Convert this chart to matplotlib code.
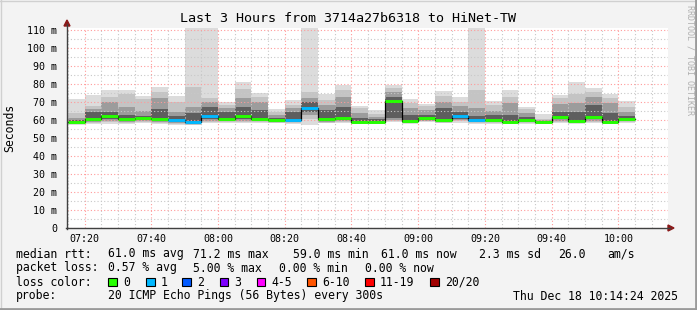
import numpy as np
import pandas as pd
import matplotlib
matplotlib.use('Agg')
import matplotlib.pyplot as plt
import matplotlib.dates as mdates
from matplotlib.patches import Rectangle, Polygon
from matplotlib.lines import Line2D

# smoke per 5 minute step (ms): outer -> inner bands
ping_max = [71.7, 74.1, 76.7, 76.7, 73.3, 78.3, 73.3, 115, 115, 69.8, 81.3, 75.2, 65.9, 71.1, 115, 74.4, 79.4,
            67.8, 65.6, 79.4, 71.7, 68.9, 76.3, 72.6, 115, 70.6, 76.7, 67.0, 63.3, 73.9, 81.3, 77.6, 74.4, 70.6]
ping_hi2 = [63.7, 67.8, 73.0, 74.4, 71.5, 75.7, 70.2, 78.5, 72.0, 68.3, 77.2, 72.6, 64.6, 68.3, 75.7, 71.1, 76.7,
            66.5, 63.4, 77.6, 69.6, 67.8, 73.3, 70.2, 76.7, 68.3, 72.9, 65.9, 60.8, 72.0, 74.4, 75.7, 72.0, 67.0]
ping_hi3 = [61.0, 65.9, 70.0, 67.4, 65.0, 72.0, 64.6, 67.0, 70.0, 66.5, 72.0, 70.0, 62.8, 66.5, 72.0, 68.3, 73.0,
            63.7, 61.9, 75.7, 66.5, 65.6, 70.0, 67.8, 66.5, 65.2, 69.3, 63.7, 60.0, 69.0, 69.3, 73.0, 69.3, 64.6]
ping_hi4 = [60.0, 64.5, 64.5, 62.8, 62.5, 66.0, 62.0, 63.7, 67.0, 64.6, 67.4, 65.6, 61.3, 64.6, 70.0, 65.6, 67.0,
            61.0, 60.4, 72.5, 62.8, 63.0, 66.5, 64.6, 62.0, 62.8, 62.8, 61.5, 59.3, 64.6, 64.6, 68.3, 63.7, 62.2]
median = [59.1, 60.8, 62.2, 60.8, 61.3, 60.8, 59.8, 58.7, 62.4, 60.8, 62.2, 60.7, 59.8, 59.8, 66.7, 60.4, 61.3,
          58.9, 58.9, 70.7, 59.6, 61.3, 59.8, 62.2, 60.0, 59.8, 59.1, 59.8, 58.7, 61.9, 59.6, 61.9, 58.9, 60.6]
ping_lo4 = [58.7, 59.5, 60.5, 59.8, 60.3, 59.8, 59.0, 58.3, 60.5, 59.8, 60.5, 59.8, 59.3, 59.2, 64.5, 59.6, 60.2,
            58.6, 58.6, 61.0, 59.0, 60.2, 59.2, 60.8, 59.3, 59.2, 58.8, 59.3, 58.4, 60.3, 59.2, 60.3, 58.6, 59.8]
ping_lo3 = [58.4, 59.0, 59.5, 59.0, 59.5, 59.0, 58.5, 58.0, 59.5, 59.3, 59.5, 59.3, 59.0, 58.8, 63.0, 59.1, 59.5,
            58.3, 58.3, 60.0, 58.6, 59.7, 58.8, 60.0, 58.8, 58.8, 58.5, 58.8, 58.2, 59.6, 58.8, 59.6, 58.3, 59.3]
ping_lo2 = [58.0, 58.5, 58.8, 58.5, 59.0, 58.5, 57.8, 57.5, 58.8, 58.7, 58.8, 58.7, 58.6, 58.4, 60.5, 58.6, 59.0,
            58.0, 58.0, 59.5, 58.2, 59.2, 58.4, 59.2, 58.3, 58.3, 58.2, 58.3, 58.0, 59.0, 58.3, 59.0, 58.0, 58.7]
ping_min = [57.5, 57.8, 58.0, 57.8, 58.3, 57.7, 57.2, 57.0, 58.1, 58.1, 58.1, 58.1, 58.1, 57.8, 57.5, 58.1, 58.3,
            57.8, 57.8, 58.8, 57.8, 58.9, 58.1, 58.3, 57.8, 57.8, 57.8, 57.8, 57.8, 58.3, 57.8, 58.1, 57.8, 58.1]
# lost pings (of 20) per step
loss = [0, 0, 0, 0, 0, 0, 1, 1, 1, 0, 0, 0, 0, 1, 1, 0, 0, 0, 0, 0, 0, 0, 0, 1, 1, 0, 0, 0, 0, 0, 0, 0, 0, 0]

loss_labels = ['0', '1', '2', '3', '4-5', '6-10', '11-19', '20/20']
loss_colors = ['#26ff00', '#00b8ff', '#0059ff', '#7e00ff', '#ff00ff', '#ff5500', '#ff0000', '#a10000']
y_ticks = [0, 10, 20, 30, 40, 50, 60, 70, 80, 90, 100, 110]

W, H = 697, 310
plt.rcParams['font.family'] = ['DejaVu Sans Mono']


def fx(x):
    return x / W


def fy(y):
    return 1 - y / H


fig = plt.figure(figsize=(W / 100, H / 100), dpi=100)
fig.patch.set_facecolor('#f3f3f3')

ax = fig.add_axes([fx(67), fy(228), fx(668) - fx(67), fy(28.2) - fy(228)])
ax.set_facecolor('white')

times = pd.date_range('2025-12-18 07:15', periods=len(median), freq='5min')
x = mdates.date2num(times)
w = 5 / 1440.0

# smoke bands
bands = [(ping_min, ping_max, '#dcdcdc'), (ping_lo2, ping_hi2, '#c4c4c4'),
         (ping_lo3, ping_hi3, '#9c9c9c'), (ping_lo4, ping_hi4, '#5e5e5e')]
for lo, hi, col in bands:
    lo = np.array(lo)
    hi = np.array(hi)
    ax.bar(x, hi - lo, bottom=lo, width=w, align='edge', color=col, linewidth=0, zorder=1)

# median: black step + loss coloured segments
xs = np.append(x, x[-1] + w)
ax.step(xs, np.append(median, median[-1]), where='post', color='black', lw=0.9, zorder=3)
med_cols = [loss_colors[l] for l in loss]
ax.hlines(median, x, x + w, colors=med_cols, linewidth=2.1, zorder=4)

# limits and grid
t0 = mdates.date2num(pd.Timestamp('2025-12-18 07:14:42'))
t1 = mdates.date2num(pd.Timestamp('2025-12-18 10:14:54'))
ax.set_xlim(t0, t1)
ax.set_ylim(0, 111)

ax.xaxis.set_major_locator(mdates.MinuteLocator(byminute=[0, 20, 40]))
ax.xaxis.set_minor_locator(mdates.MinuteLocator(byminute=range(0, 60, 5)))
ax.xaxis.set_major_formatter(mdates.DateFormatter('%H:%M'))
ax.set_yticks(y_ticks)
ax.set_yticks(np.arange(5, 111, 10), minor=True)
ax.set_yticklabels(['0' if v == 0 else '%d m' % v for v in y_ticks])

ax.set_axisbelow(False)
ax.grid(which='minor', color='#c8c8c8', linestyle=(0, (1, 2)), linewidth=0.8)
ax.grid(which='major', color='#ff9a9a', linestyle=(0, (1, 2)), linewidth=0.8)
ax.tick_params(which='both', length=0, labelsize=7.2, colors='black')
ax.tick_params(axis='x', pad=4)
ax.tick_params(axis='y', pad=7)
for s in ax.spines.values():
    s.set_visible(False)

# axis lines with arrows
fig.add_artist(Line2D([fx(67), fx(67)], [fy(229), fy(24)], color='#404040', lw=1))
fig.add_artist(Line2D([fx(66), fx(670)], [fy(228), fy(228)], color='#404040', lw=1))
fig.add_artist(Polygon([(fx(64), fy(26)), (fx(70), fy(26)), (fx(67), fy(20))], closed=True,
                       transform=fig.transFigure, color='#8b1a1a'))
fig.add_artist(Polygon([(fx(668), fy(225)), (fx(668), fy(231)), (fx(674), fy(228))], closed=True,
                       transform=fig.transFigure, color='#8b1a1a'))

# frame
fig.add_artist(Line2D([0, 1], [fy(0.5), fy(0.5)], color='#d0d0d0', lw=1))
fig.add_artist(Line2D([fx(0.5), fx(0.5)], [0, 1], color='#d0d0d0', lw=1))
fig.add_artist(Line2D([0, 1], [fy(309), fy(309)], color='#9a9a9a', lw=2))
fig.add_artist(Line2D([fx(696), fx(696)], [0, 1], color='#9a9a9a', lw=2))

# titles
fig.text(fx(348), fy(19), 'Last 3 Hours from 3714a27b6318 to HiNet-TW', ha='center', va='center', fontsize=9.6)
fig.text(fx(10), fy(128), 'Seconds', rotation=90, ha='center', va='center', fontsize=8.3)
fig.text(fx(690), fy(5), 'RRDTOOL / TOBI OETIKER', rotation=270, ha='center', va='top',
         fontsize=6, color='#b0b0b0')

# legend rows
fs = 8.3
rows = [
    (254, [(16, 'median rtt:'), (107.5, '61.0 ms avg'), (193.5, '71.2 ms max'), (293, '59.0 ms min'),
           (381, '61.0 ms now'), (479, '2.3 ms sd'), (558, '26.0'), (607.5, 'am/s')]),
    (268, [(16, 'packet loss:'), (107.5, '0.57 % avg'), (193.5, '5.00 % max'), (279, '0.00 % min'),
           (365, '0.00 % now')]),
    (282, [(16, 'loss color:')]),
    (296, [(16, 'probe:'), (107.5, '20 ICMP Echo Pings (56 Bytes) every 300s'),
           (513, 'Thu Dec 18 10:14:24 2025')]),
]
for yy, items in rows:
    for xx, s in items:
        fig.text(fx(xx), fy(yy), s, ha='left', va='center', fontsize=fs)

box_x = [108, 146, 182, 219.5, 256.5, 307, 365, 430]
for bx, lab, col in zip(box_x, loss_labels, loss_colors):
    fig.add_artist(Rectangle((fx(bx), fy(286)), fx(8.5), fy(277.5) - fy(286), transform=fig.transFigure,
                             facecolor=col, edgecolor='black', lw=0.8))
    fig.text(fx(bx + 15), fy(282), lab, ha='left', va='center', fontsize=fs)

fig.savefig('out.png', dpi=100, facecolor=fig.get_facecolor())
